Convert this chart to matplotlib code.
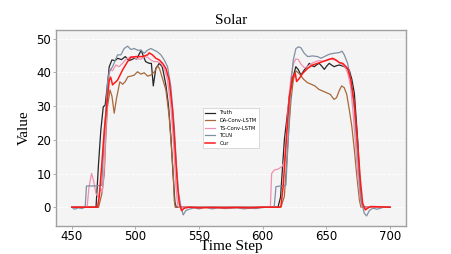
import matplotlib
matplotlib.use("Agg")
import matplotlib.pyplot as plt

# ---- data ----
t_truth = [450, 469, 471, 472.8, 474.7, 476.2, 478.1, 479.4, 481.5, 484, 486, 489, 492, 495, 497, 499, 501, 503, 504.5, 506, 508, 510.8, 512.5, 514, 516, 518.7, 521, 522, 524, 526, 528, 529.5, 531, 532,
           612, 614, 617, 621, 624.8, 626, 628, 630, 632.6, 634.5, 636.6, 638.5, 640.5, 642.5, 644.4, 646.5, 648.4, 650.5, 652.3, 654, 656.2, 658, 660.2, 662, 664.1, 666, 668, 670, 672, 674.6, 677, 678.5, 700]
v_truth = [0, 0, 13, 22.9, 29.8, 30.3, 36.8, 41.7, 43.7, 43.5, 44.2, 43.8, 44.7, 43.5, 43.8, 44.2, 44.0, 45.5, 46.6, 45.0, 43.2, 42.7, 42.7, 36.0, 41.2, 42.7, 41.7, 40.0, 36, 30, 20, 10, 1.5, 0,
           0, 3, 20, 33, 40, 41.7, 40.8, 39.2, 40.7, 41.5, 42.7, 42.0, 41.7, 42.3, 42.7, 41.8, 40.9, 42.0, 42.7, 42.2, 41.7, 42.0, 42.2, 42.0, 41.7, 41.2, 40.7, 38, 33.8, 20, 2, 0, 0]

t_da = [450, 471, 473.6, 475.5, 476.7, 478, 480, 481.5, 483.3, 485.1, 487.7, 490, 492, 494, 496.4, 499, 501.6, 504.2, 506.9, 509.5, 512.1, 515, 517.5, 519, 521, 523.9, 526.5, 528.4, 529.7, 530.5, 531.2,
        614.3, 617, 618.2, 620.3, 622.2, 624, 626, 629, 632, 635, 638, 641, 644, 647, 650, 653, 656, 658, 660, 662, 664, 666, 668, 670, 672, 674, 676, 677.2, 700]
v_da = [0, 0, 4, 9.9, 20.9, 29.8, 34.8, 33, 27.9, 32.3, 37.2, 36.5, 37.3, 38.7, 38.9, 39.2, 40.2, 39.5, 39.9, 38.9, 39.2, 40.2, 42, 41, 38.5, 34.8, 26.9, 17, 10, 2, 0,
        0, 3.2, 10, 22, 31.8, 37.7, 40.5, 39.5, 38, 37, 36.5, 36, 35, 34.5, 34, 33.5, 32, 32.5, 34.5, 36, 35.5, 33.5, 29, 24, 17, 9, 2, 0, 0]

t_ts = [450, 462, 463.5, 465.5, 467, 469, 471, 472.8, 474, 475.5, 477, 478.5, 480, 482, 484.6, 487.2, 489.8, 492.5, 496.4, 500.3, 504.2, 506.9, 509.5, 512.1, 514.7, 517.3, 520, 522.6, 525.2, 527.8, 529.9, 531.8, 533.1, 534,
        606, 607, 609, 612, 615, 617, 618, 620, 622, 624, 626, 628, 630, 633, 636, 640, 644, 648, 652, 656, 659, 662, 665, 667, 669, 671, 673, 675, 677, 678, 700]
v_ts = [0, 0, 6, 10, 8, 4, 3, 5.5, 4.5, 12, 25, 36, 41, 40.5, 42.2, 41.7, 42.7, 43.9, 44.7, 44.2, 43.9, 44.7, 44.5, 43.7, 43.2, 43.2, 42.7, 41.2, 37.7, 29.8, 19, 6.1, 0.7, 0,
        0, 10, 11, 11.3, 12, 13.5, 18, 30, 38, 42.5, 44, 43.8, 42.5, 41.3, 42, 43, 43.5, 43.3, 44, 43.8, 43.3, 42.5, 41.5, 39.5, 36, 28, 18, 8, 1.5, 0, 0]

t_tcln = [450, 452, 455, 458, 460.5, 461.5, 468, 473.5, 475.4, 478, 479.4, 482, 485.9, 488.5, 491.1, 493.8, 496.4, 499, 501.6, 504.2, 506.9, 509.5, 512.1, 514.7, 517.3, 520, 522.6, 525.2, 527.8, 530.5, 532.3, 533.9, 535.7, 537.5, 539.6, 542.2,
          546, 550, 555, 560, 565, 570, 575, 580, 585, 590, 595, 600, 605, 609, 610.4, 614, 618.2, 620.3, 622.2, 624, 626.1, 628.2, 630, 632.6, 635.3, 639.2, 643.1, 645.8, 648.4, 652.3, 656.2, 660.2, 662.3, 664.1, 666.7, 669.3, 672, 674, 675.9, 677.2, 679.8, 681.6, 683.8, 686.4, 690, 695, 700]
v_tcln = [0, -0.6, -0.2, -0.4, 0, 6.3, 6.3, 6.5, 20, 36.8, 40.2, 41.7, 45.2, 45.2, 47.1, 47.8, 46.8, 47.1, 46.6, 46.6, 45.7, 46.6, 47.1, 46.6, 46.1, 45.2, 43.7, 41.7, 35.8, 23.9, 12, 4.2, 0.2, -2.3, -1, -0.6,
          -0.2, -0.5, 0, -0.5, -0.2, -0.4, -0.3, -0.2, -0.5, -0.3, -0.4, -0.1, 0, 0, 6.1, 6.3, 6.5, 22, 36.8, 43.7, 47.1, 47.6, 47.3, 45.7, 44.7, 44.9, 44.7, 44.2, 44.7, 45.4, 45.7, 45.9, 46.3, 45.2, 42.7, 37.7, 28.9, 18, 8.1, 2.2, -1.8, -2.6, -1, -0.3, -0.6, 0, 0]

t_our = [450, 470.2, 471.5, 473.6, 475.5, 478.1, 479.4, 480.5, 482, 485.9, 489.8, 493.8, 496.4, 500.3, 505.6, 509.5, 510.8, 513.4, 516, 518.7, 521.3, 523.9, 526.5, 529.1, 531.2, 533.1, 534.4, 536.2, 538.3, 542.2, 550, 560, 570, 580, 590, 600,
         613, 614.3, 616, 618.2, 620.9, 623.5, 625.6, 626.6, 628.7, 631.3, 635.3, 639.2, 643.1, 647.1, 651, 654.9, 657.5, 660.2, 662.8, 666.7, 669.3, 672, 674.6, 676.7, 678.5, 680.6, 682.4, 685, 700]
v_our = [0, 0, 3, 13, 22.9, 32.8, 37.7, 38.6, 36.3, 37.7, 40.7, 43.2, 44.5, 44.7, 44.7, 45.2, 45.8, 45.2, 44.2, 43.7, 42.7, 41.2, 37.7, 28.9, 17, 6.1, 1.2, -1, -0.3, 0, -0.2, -0.1, -0.2, -0.1, -0.2, 0,
         0, 0.2, 6, 18, 32.8, 38.7, 39.7, 37.3, 38.2, 39.7, 41.2, 42.2, 42.7, 43.2, 43.7, 44.2, 43.7, 42.9, 42.7, 41.2, 37.7, 30.8, 19, 8.1, 1.2, -0.8, -0.3, 0.2, 0]

series = [
    ("Truth", t_truth, v_truth, "#262626", 0.9),
    ("DA-Conv-LSTM", t_da, v_da, "#a8683a", 0.9),
    ("TS-Conv-LSTM", t_ts, v_ts, "#f090b0", 0.9),
    ("TCLN", t_tcln, v_tcln, "#8090a2", 0.9),
    ("Our", t_our, v_our, "#ff1a1a", 1.1),
]

x_ticks = [450, 500, 550, 600, 650, 700]
y_ticks = [0, 10, 20, 30, 40, 50]

fig = plt.figure(figsize=(4.51, 2.54), dpi=100)
ax = fig.add_axes([0.124, 0.110, 0.776, 0.772])
ax.set_facecolor("#f4f4f4")

for name, t, v, c, lw in series:
    ax.plot(t, v, color=c, lw=lw, label=name)

ax.set_xlim(437.5, 712.5)
ax.set_ylim(-5.6, 52.6)
ax.set_xticks(x_ticks)
ax.set_yticks(y_ticks)
ax.yaxis.grid(True, color="white", linestyle="--", linewidth=0.6)
ax.set_axisbelow(True)
for s in ax.spines.values():
    s.set_color("#a0a0a0")
    s.set_linewidth(1.0)
ax.tick_params(axis="both", labelsize=8.5, length=2, width=0.6, color="#a0a0a0", pad=1.5)
ax.tick_params(axis="x", pad=0.5)

serif = ["Liberation Serif", "DejaVu Serif"]
ax.set_title("Solar", family=serif, fontsize=11, pad=4)
ax.set_xlabel("Time Step", family=serif, fontsize=11, labelpad=-2)
ax.set_ylabel("Value", family=serif, fontsize=11, labelpad=4)

leg = ax.legend(loc="center", fontsize=3.7, frameon=True, fancybox=False,
                edgecolor="#cccccc", facecolor="white", framealpha=1.0)
leg.get_frame().set_linewidth(0.5)

fig.savefig("out.png", dpi=100)
